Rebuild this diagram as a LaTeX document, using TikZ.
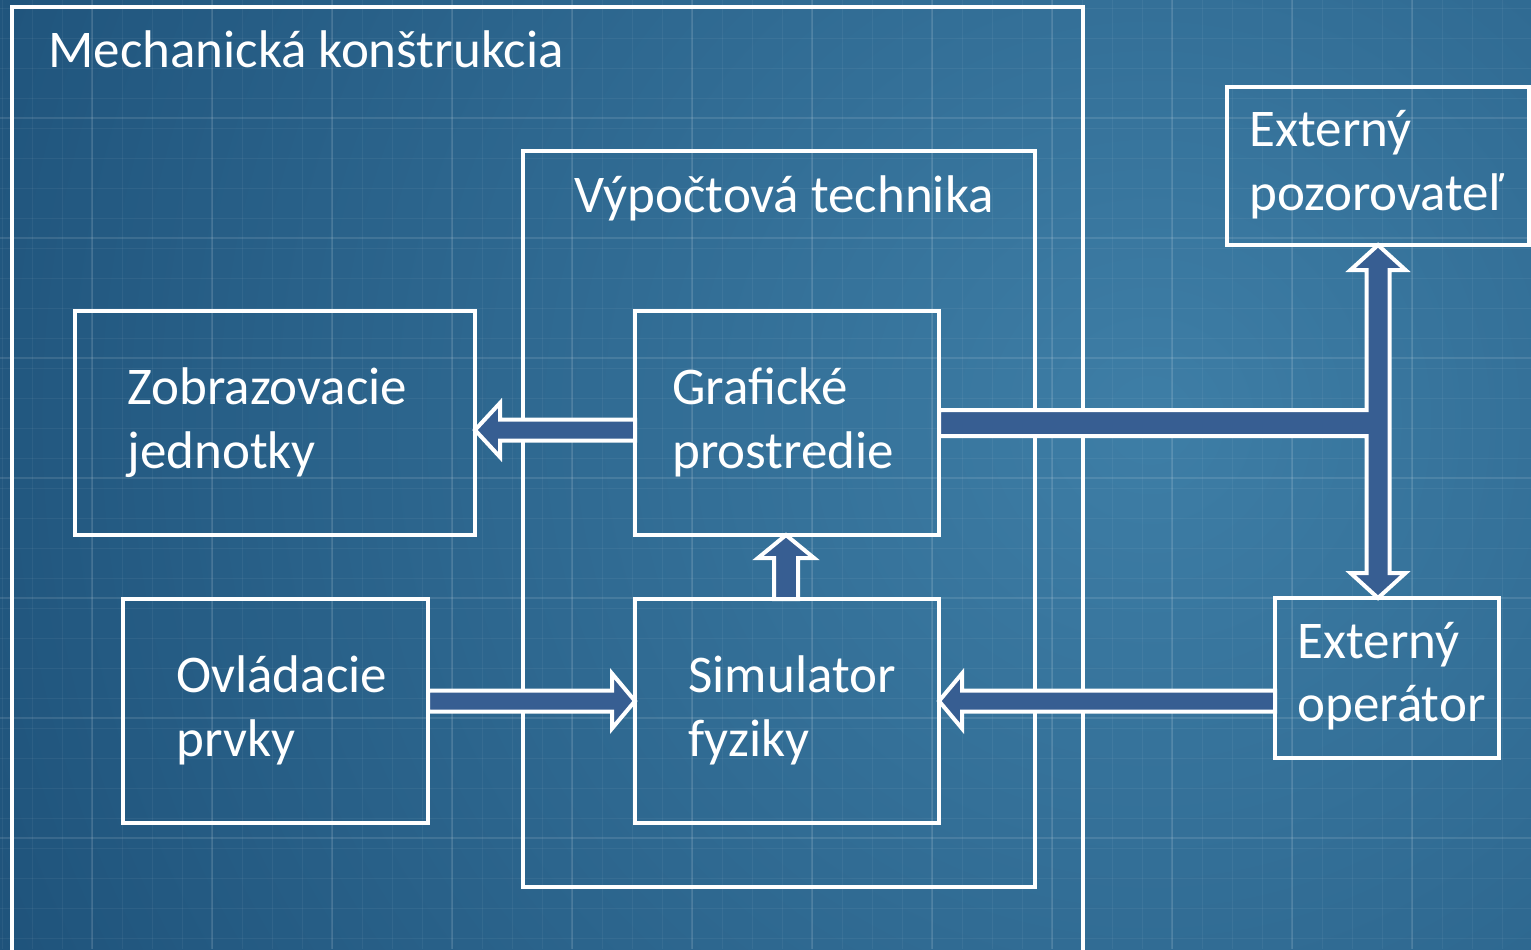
\documentclass[tikz,border=0pt]{standalone}
\usepackage{fontspec}
\setmainfont{Carlito}
\usetikzlibrary{calc}
\definecolor{bgin}{RGB}{62,126,166}
\definecolor{bgout}{RGB}{30,82,122}
\definecolor{arrowfill}{RGB}{55,94,146}
\begin{document}
\begin{tikzpicture}[x=0.5pt,y=-0.5pt,
  box/.style={draw=white, line width=2pt, anchor=north west, inner sep=0pt, outer sep=0pt},
  txt/.style={anchor=base west, text=white, inner sep=0pt, font=\fontsize{26.5}{32}\selectfont},
  barrow/.style={draw=white, fill=arrowfill, line width=2pt, line join=miter},
  minorgrid/.style={white, opacity=0.05, line width=0.5pt},
  majorgrid/.style={white, opacity=0.11, line width=1pt}]
\useasboundingbox (0,0) rectangle (1531,949);
\begin{scope}
\clip (0,0) rectangle (1531,949);
% background
\fill[bgout] (0,0) rectangle (1531,949);
\shade[inner color=bgin, outer color=bgout] (1150,420) circle (1300);
\foreach \x in {2,32,...,1530} \draw[minorgrid] (\x,0) -- (\x,949);
\foreach \y in {8,38,...,949} \draw[minorgrid] (0,\y) -- (1531,\y);
\foreach \x in {92,212,...,1530} \draw[majorgrid] (\x,0) -- (\x,949);
\foreach \y in {118,238,...,949} \draw[majorgrid] (0,\y) -- (1531,\y);

% boxes
\node[box, minimum width=535.5pt, minimum height=480pt] (mech) at (12,7) {};
\node[box, minimum width=256pt, minimum height=368pt] (vyp) at (523,151) {};
\node[box, minimum width=200pt, minimum height=112pt] (zob) at (75,311) {};
\node[box, minimum width=152pt, minimum height=112pt] (graf) at (635,311) {};
\node[box, minimum width=152.5pt, minimum height=112pt] (ovl) at (123,599) {};
\node[box, minimum width=152pt, minimum height=112pt] (sim) at (635,599) {};
\node[box, minimum width=151pt, minimum height=79pt] (poz) at (1227,87) {};
\node[box, minimum width=112pt, minimum height=80pt] (ope) at (1275,598) {};

% texts
\node[txt] (mecht) at (48,67) {Mechanická konštrukcia};
\node[txt] (vypt) at (574,212) {Výpočtová technika};
\node[txt] (zobt1) at (127,404) {Zobrazovacie};
\node[txt] (zobt2) at (127,468) {jednotky};
\node[txt] (graft1) at (672,404) {Grafické};
\node[txt] (graft2) at (672,468) {prostredie};
\node[txt] (ovlt1) at (176,692) {Ovládacie};
\node[txt] (ovlt2) at (176,756) {prvky};
\node[txt] (simt1) at (688,692) {Simulator};
\node[txt] (simt2) at (688,756) {fyziky};
\node[txt] (pozt1) at (1249,146) {Externý};
\node[txt] (pozt2) at (1249,210) {pozorovateľ};
\node[txt] (opet1) at (1297,658) {Externý};
\node[txt] (opet2) at (1297,721) {operátor};

% arrow: Graficke -> Zobrazovacie
\draw[barrow] ($(graf.west)+(0,-3.5)$) -- ($(zob.east)+(25,-3.5)$) -- ($(zob.east)+(25,-20)$)
  -- ($(zob.east)+(0,7)$) -- ($(zob.east)+(25,34)$) -- ($(zob.east)+(25,17.5)$)
  -- ($(graf.west)+(0,17.5)$) -- cycle;
% arrow: Simulator -> Graficke
\draw[barrow] ($(sim.north)+(-13,0)$) -- ($(graf.south)+(-13,23)$) -- ($(graf.south)+(-29,23)$)
  -- ($(graf.south)+(-1,0)$) -- ($(graf.south)+(27,23)$) -- ($(graf.south)+(11,23)$)
  -- ($(sim.north)+(11,0)$) -- cycle;
% arrow: Ovladacie -> Simulator
\draw[barrow] ($(ovl.east)+(0,-20.5)$) -- ($(sim.west)+(-23,-20.5)$) -- ($(sim.west)+(-23,-37.5)$)
  -- ($(sim.west)+(0,-10)$) -- ($(sim.west)+(-23,17.5)$) -- ($(sim.west)+(-23,0.5)$)
  -- ($(ovl.east)+(0,0.5)$) -- cycle;
% arrow: Externy operator -> Simulator
\draw[barrow] ($(ope.west)+(0,12.5)$) -- ($(sim.east)+(23,-20.5)$) -- ($(sim.east)+(23,-37.5)$)
  -- ($(sim.east)+(0,-10)$) -- ($(sim.east)+(23,17.5)$) -- ($(sim.east)+(23,0.5)$)
  -- ($(ope.west)+(0,33.5)$) -- cycle;
% T-shaped double arrow: Graficke <-> Externy pozorovatel / Externy operator
\coordinate (tbot) at (poz.south |- ope.north);
\draw[barrow] ($(graf.east)+(0,-13)$)
  -- ($(poz.south |- graf.east)+(-11.5,-13)$)
  -- ($(poz.south)+(-11.5,25)$) -- ($(poz.south)+(-27.5,25)$)
  -- (poz.south)
  -- ($(poz.south)+(27.5,25)$) -- ($(poz.south)+(11.5,25)$)
  -- ($(tbot)+(11.5,-25)$) -- ($(tbot)+(27.5,-25)$)
  -- (tbot)
  -- ($(tbot)+(-27.5,-25)$) -- ($(tbot)+(-11.5,-25)$)
  -- ($(poz.south |- graf.east)+(-11.5,13)$)
  -- ($(graf.east)+(0,13)$) -- cycle;
\end{scope}
\end{tikzpicture}
\end{document}
